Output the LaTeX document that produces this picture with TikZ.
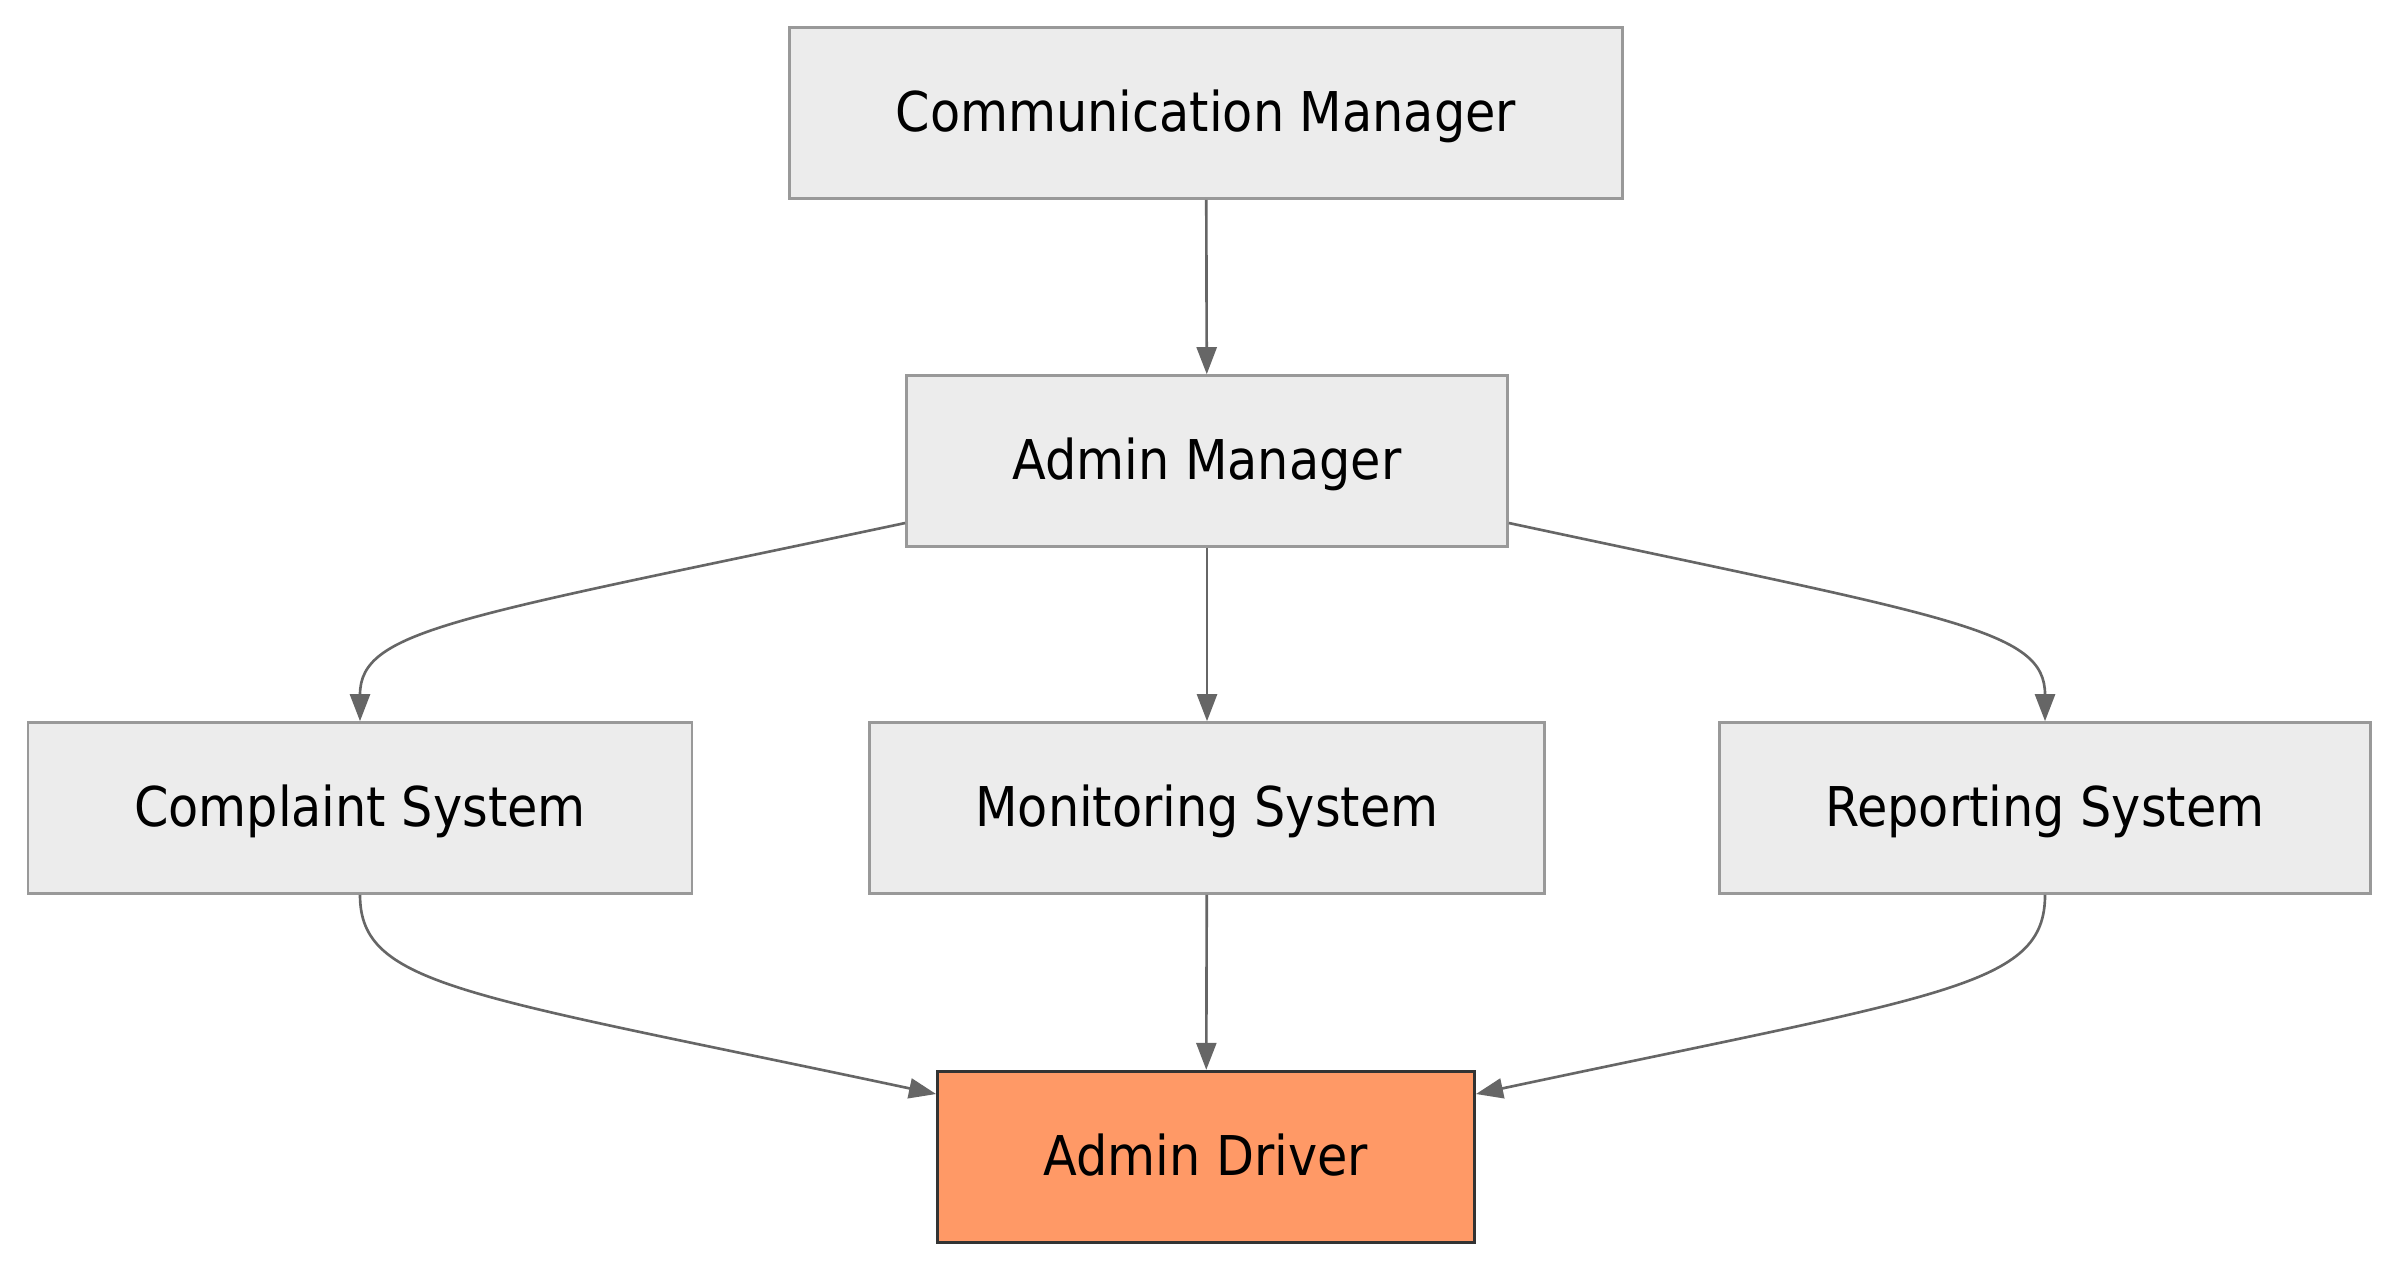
\documentclass[tikz,border=0pt]{standalone}
\usepackage{fontspec}
\setmainfont{DejaVu Sans Condensed}
\usepackage{tikz}
\usetikzlibrary{arrows.meta,calc,positioning}
\definecolor{boxfill}{HTML}{ECECEC}
\definecolor{boxline}{HTML}{999999}
\definecolor{drivefill}{HTML}{FF9966}
\definecolor{driveline}{HTML}{333333}
\definecolor{edgegray}{HTML}{666666}

\begin{document}
\begin{tikzpicture}[
  box/.style={draw=boxline, fill=boxfill, line width=0.75pt, minimum height=1.71cm,
              inner xsep=1.06cm, text height=1.06em, text depth=0em,
              font=\fontsize{15.6}{19}\selectfont},
  drivebox/.style={box, draw=driveline, fill=drivefill, line width=0.95pt},
  edge/.style={draw=edgegray, line width=0.75pt, -{Triangle[length=7.7pt,width=5.7pt]}}]
\useasboundingbox (0,0) rectangle (24,-12.72);
%--- livelli ---
\node[box] (comm) at (12.06,-1.13) {Communication Manager};
\node[box] (admin) at (12.07,-4.61) {Admin Manager};
\node[box] (complaint) at (3.60,-8.08) {Complaint System};
\node[box] (monitor) at (12.07,-8.08) {Monitoring System};
\node[box] (report) at (20.45,-8.08) {Reporting System};
\node[drivebox] (driver) at (12.06,-11.57) {Admin Driver};

%--- collegamenti ---
\draw[edge] (comm) -- (admin);
\draw[edge] ([yshift=-6.2mm]admin.west) .. controls +(-4.48,-0.95) and +(0,0.92) .. (complaint.north);
\draw[edge] (admin) -- (monitor);
\draw[edge] ([yshift=-6.2mm]admin.east) .. controls +(4.44,-0.95) and +(0,0.92) .. (report.north);
% verso il driver
\draw[edge] (complaint.south) .. controls +(0,-0.92) and +(-4.7,1.0) .. ([yshift=6.3mm]driver.west);
\draw[edge] (monitor) -- (driver);
\draw[edge] (report.south) .. controls +(0,-0.92) and +(4.7,1.0) .. ([yshift=6.3mm]driver.east);
\end{tikzpicture}
\end{document}
